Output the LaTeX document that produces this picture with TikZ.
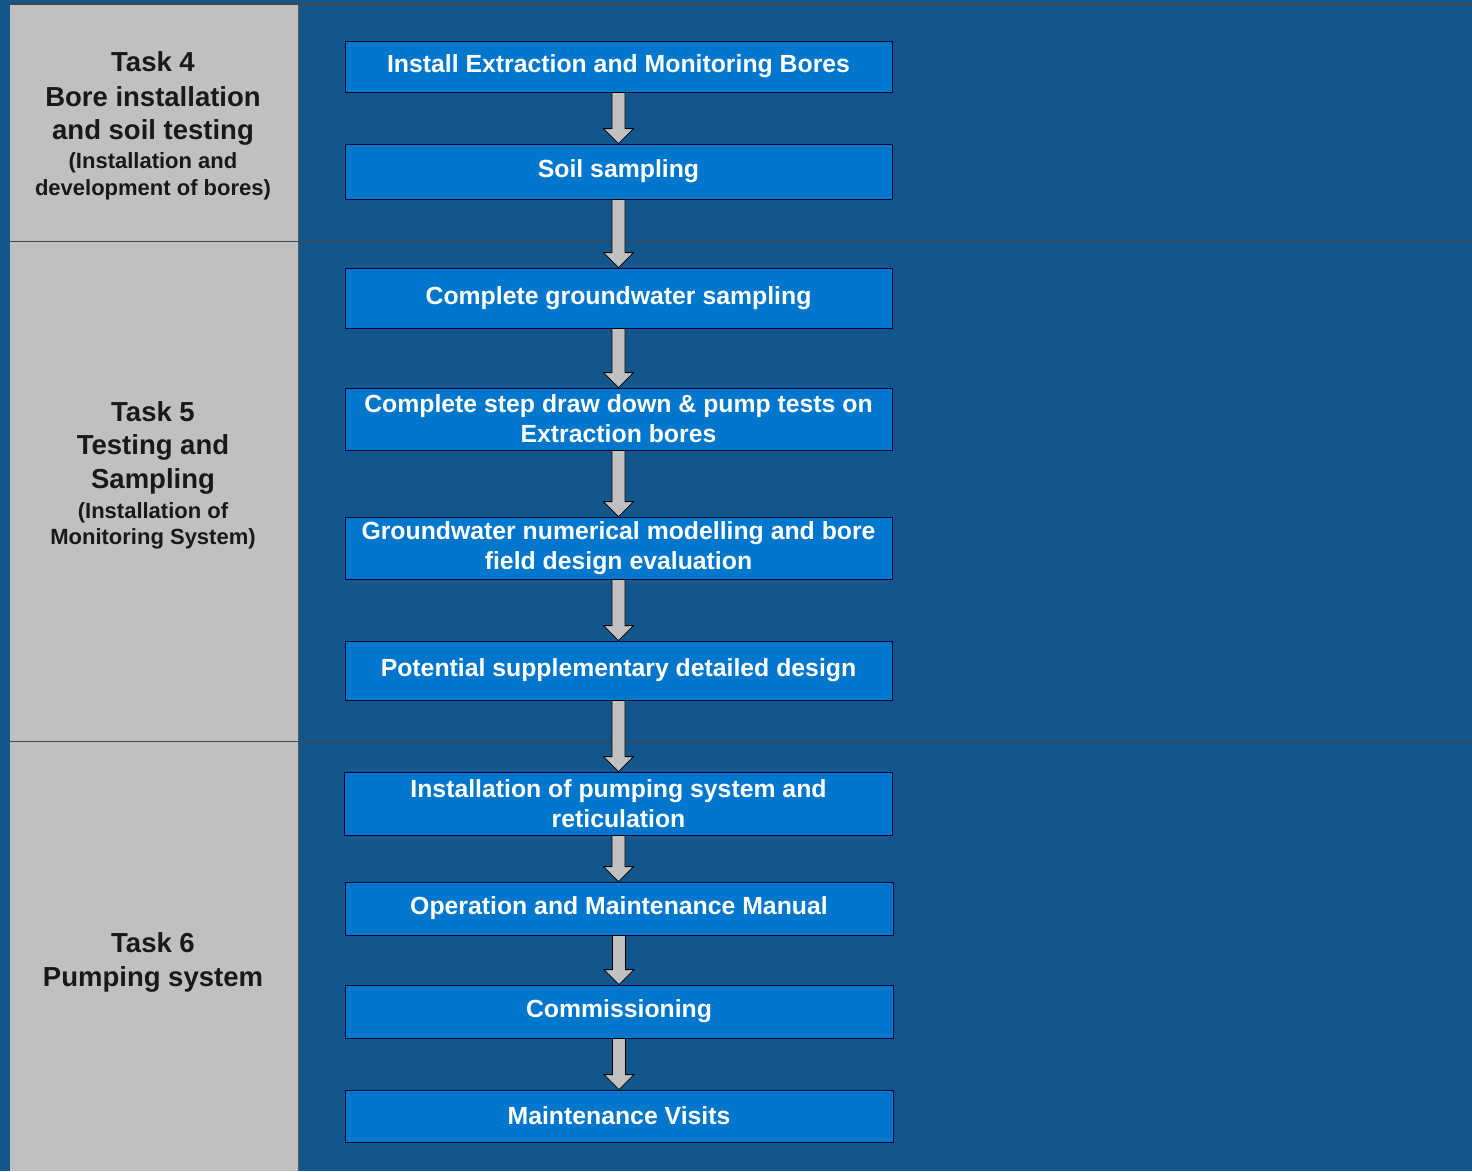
\documentclass[tikz,border=0pt]{standalone}
\usepackage{fontspec}
\setmainfont{Liberation Sans}
\usetikzlibrary{calc}
\definecolor{bgblue}{RGB}{17,86,140}
\definecolor{boxblue}{RGB}{0,119,204}
\definecolor{colgray}{RGB}{192,192,192}
\definecolor{linegray}{RGB}{70,70,70}
\tikzset{
  stepbox/.style={draw=black!80!blue, line width=0.8pt, fill=boxblue, text=white,
    font=\fontsize{24.8}{30}\selectfont\bfseries, align=center, inner sep=0pt},
  tasktext/.style={align=center, text=black!90, inner sep=0pt,
    font=\fontsize{27.5}{34}\selectfont\bfseries},
  blockarrow/.style={draw=black, line width=0.8pt, fill=colgray, line join=miter},
}
\newcommand{\smalltxt}{\fontsize{22}{27}\selectfont\bfseries}
\newcommand{\barrow}[2]{%
  \path[blockarrow] let \p1=(#1.south), \p2=(#2.north) in
    (\x1-6.5,\y1) -- (\x1+6.5,\y1) -- (\x1+6.5,\y2+15) -- (\x1+15,\y2+15) -- (\x1,\y2)
    -- (\x1-15,\y2+15) -- (\x1-6.5,\y2+15) -- cycle;}
\begin{document}
\begin{tikzpicture}[x=1pt,y=-1pt]
\useasboundingbox (0,0) rectangle (1472,1171);
\fill[bgblue] (0,0) rectangle (1472,1171);
% left column
\fill[colgray] (10,4) rectangle (298,1171);
\draw[gray!70!black, line width=1pt] (298,4) -- (298,1171);
\draw[linegray, line width=1.2pt] (10,4) -- (1472,4);
\draw[linegray, line width=1pt] (10,241.5) -- (1472,241.5);
\draw[linegray, line width=1pt] (10,741.5) -- (1472,741.5);
% task labels
\node[tasktext, anchor=north] (t4) at (153,51) {Task 4\\[1pt]
  Bore installation\\[-1pt]
  and soil testing\\[-5pt]
  {\smalltxt (Installation and}\\[-7pt]
  {\smalltxt development of bores)}};
\node[tasktext, anchor=north] (t5) at (153,401) {Task 5\\[-0.5pt]
  Testing and\\[-0.5pt]
  Sampling\\[-4pt]
  {\smalltxt (Installation of}\\[-8pt]
  {\smalltxt Monitoring System)}};
\node[tasktext, anchor=north] (t6) at (153,932) {Task 6\\[0pt]
  Pumping system};
% step boxes
\node[stepbox, minimum width=547, minimum height=51] (b1) at (618.5,66.5) {Install Extraction and Monitoring Bores};
\node[stepbox, minimum width=547, minimum height=55] (b2) at (618.5,171.5) {Soil sampling};
\node[stepbox, minimum width=547, minimum height=60] (b3) at (618.5,298) {Complete groundwater sampling};
\node[stepbox, minimum width=547, minimum height=62] (b4) at (618.5,419) {Complete step draw down \& pump tests on\\Extraction bores};
\node[stepbox, minimum width=547, minimum height=62] (b5) at (618.5,548) {Groundwater numerical modelling and bore\\field design evaluation};
\node[stepbox, minimum width=547, minimum height=59] (b6) at (618.5,670.5) {Potential supplementary detailed design};
\node[stepbox, minimum width=548, minimum height=63] (b7) at (618.5,803.5) {Installation of pumping system and\\reticulation};
\node[stepbox, minimum width=548, minimum height=53] (b8) at (619,908.5) {Operation and Maintenance Manual};
\node[stepbox, minimum width=548, minimum height=53] (b9) at (619,1011.5) {Commissioning};
\node[stepbox, minimum width=548, minimum height=52] (b10) at (619,1116) {Maintenance Visits};
% arrows
\barrow{b1}{b2}
\barrow{b2}{b3}
\barrow{b3}{b4}
\barrow{b4}{b5}
\barrow{b5}{b6}
\barrow{b6}{b7}
\barrow{b7}{b8}
\barrow{b8}{b9}
\barrow{b9}{b10}
\end{tikzpicture}
\end{document}
